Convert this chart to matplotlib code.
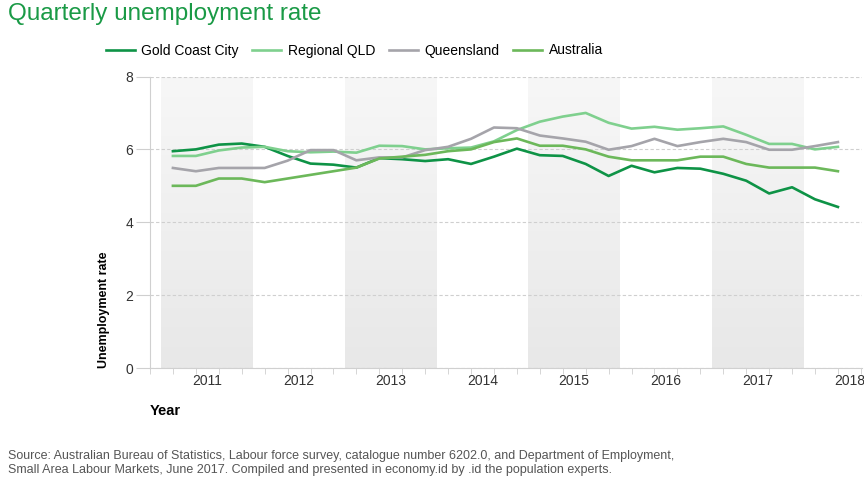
import matplotlib
matplotlib.use("Agg")
import matplotlib.pyplot as plt
import numpy as np

plt.rcParams['font.family'] = ['Liberation Sans', 'DejaVu Sans']

# quarterly values, Mar 2011 .. Jun 2018
gold_coast = [5.95, 6.0, 6.13, 6.16, 6.07, 5.82, 5.61, 5.58, 5.50, 5.76,
              5.73, 5.68, 5.73, 5.6, 5.8, 6.02, 5.84, 5.82, 5.6, 5.27,
              5.55, 5.37, 5.49, 5.47, 5.33, 5.14, 4.79, 4.96, 4.63, 4.42]
regional_qld = [5.82, 5.82, 5.97, 6.05, 6.07, 5.95, 5.92, 5.94, 5.91, 6.1,
                6.09, 6.0, 6.03, 6.05, 6.22, 6.53, 6.76, 6.9, 7.0, 6.73,
                6.57, 6.62, 6.54, 6.58, 6.63, 6.4, 6.15, 6.15, 6.0, 6.07]
queensland = [5.49, 5.4, 5.49, 5.49, 5.49, 5.69, 5.98, 5.98, 5.7, 5.78,
              5.78, 5.98, 6.07, 6.29, 6.6, 6.58, 6.38, 6.3, 6.21, 5.99,
              6.09, 6.29, 6.09, 6.2, 6.29, 6.2, 5.99, 5.99, 6.09, 6.2]
australia = [5.0, 5.0, 5.2, 5.2, 5.1, 5.2, 5.3, 5.4, 5.5, 5.75,
             5.8, 5.85, 5.95, 6.0, 6.2, 6.3, 6.1, 6.1, 6.0, 5.8,
             5.7, 5.7, 5.7, 5.8, 5.8, 5.6, 5.5, 5.5, 5.5, 5.4]
years = [2011, 2012, 2013, 2014, 2015, 2016, 2017, 2018]
shaded_years = [2011, 2013, 2015, 2017]

series = [("Gold Coast City", gold_coast, "#0e9346"),
          ("Regional QLD", regional_qld, "#7fd08e"),
          ("Queensland", queensland, "#a5a4aa"),
          ("Australia", australia, "#6cb85a")]

q = np.arange(len(gold_coast))
first_year = years[0]

fig = plt.figure(figsize=(8.64, 4.82), dpi=100)
ax = fig.add_axes([150 / 864, 1 - 368 / 482, 712 / 864, 291.5 / 482])

# alternating year bands with a soft vertical gradient
grad = np.linspace(0, 1, 100).reshape(-1, 1)
band_cmap = matplotlib.colors.LinearSegmentedColormap.from_list("band", ["#e8e8e8", "#f7f7f7"])
for yr in shaded_years:
    x0 = (yr - first_year) * 4 - 0.5
    ax.imshow(grad, extent=(x0, x0 + 4, 0, 8), origin="lower", aspect="auto",
              cmap=band_cmap, zorder=0)

for name, vals, col in series:
    ax.plot(q, vals, color=col, lw=1.9, label=name, zorder=3)

ax.set_xlim(-1, 30.05)
ax.set_ylim(0, 8)

ax.set_yticks([0, 2, 4, 6, 8])
ax.yaxis.grid(True, color="#cfcfcf", ls=(0, (3, 2)), lw=0.8)
ax.tick_params(axis="y", length=10, color="#cfcfcf", labelsize=10, labelcolor="#333333", pad=2)
for ln in ax.get_ygridlines():
    ln.set_zorder(1)
ax.set_axisbelow(True)

ax.set_xticks([(yr - first_year) * 4 + 1.5 for yr in years])
ax.set_xticklabels([str(yr) for yr in years])
ax.set_xticks(np.arange(-1, 31), minor=True)
ax.tick_params(axis="x", which="major", length=0, labelsize=10, labelcolor="#333333", pad=4)
ax.tick_params(axis="x", which="minor", length=4, color="#cfcfcf")

for s in ["top", "right"]:
    ax.spines[s].set_visible(False)
for s in ["left", "bottom"]:
    ax.spines[s].set_color("#d0d0d0")

ax.set_ylabel("Unemployment rate", fontsize=9, fontweight="bold", loc="bottom", labelpad=11)
ax.set_xlabel("Year", fontsize=10.5, fontweight="bold", loc="left", labelpad=12)

fig.legend(loc="upper left", bbox_to_anchor=(93 / 864, 1 - 31 / 482), ncol=4, frameon=False,
           fontsize=10, handlelength=2.1, handletextpad=0.45, columnspacing=1.0)

fig.text(8 / 864, 1 - 14 / 482, "Quarterly unemployment rate", color="#1a9a46", fontsize=17.5, va="center")
fig.text(8 / 864, 1 - 463 / 482,
         "Source: Australian Bureau of Statistics, Labour force survey, catalogue number 6202.0, and Department of Employment,\n"
         "Small Area Labour Markets, June 2017. Compiled and presented in economy.id by .id the population experts.",
         fontsize=9, color="#555555", va="center", linespacing=1.3)

fig.savefig("out.png", dpi=100)
